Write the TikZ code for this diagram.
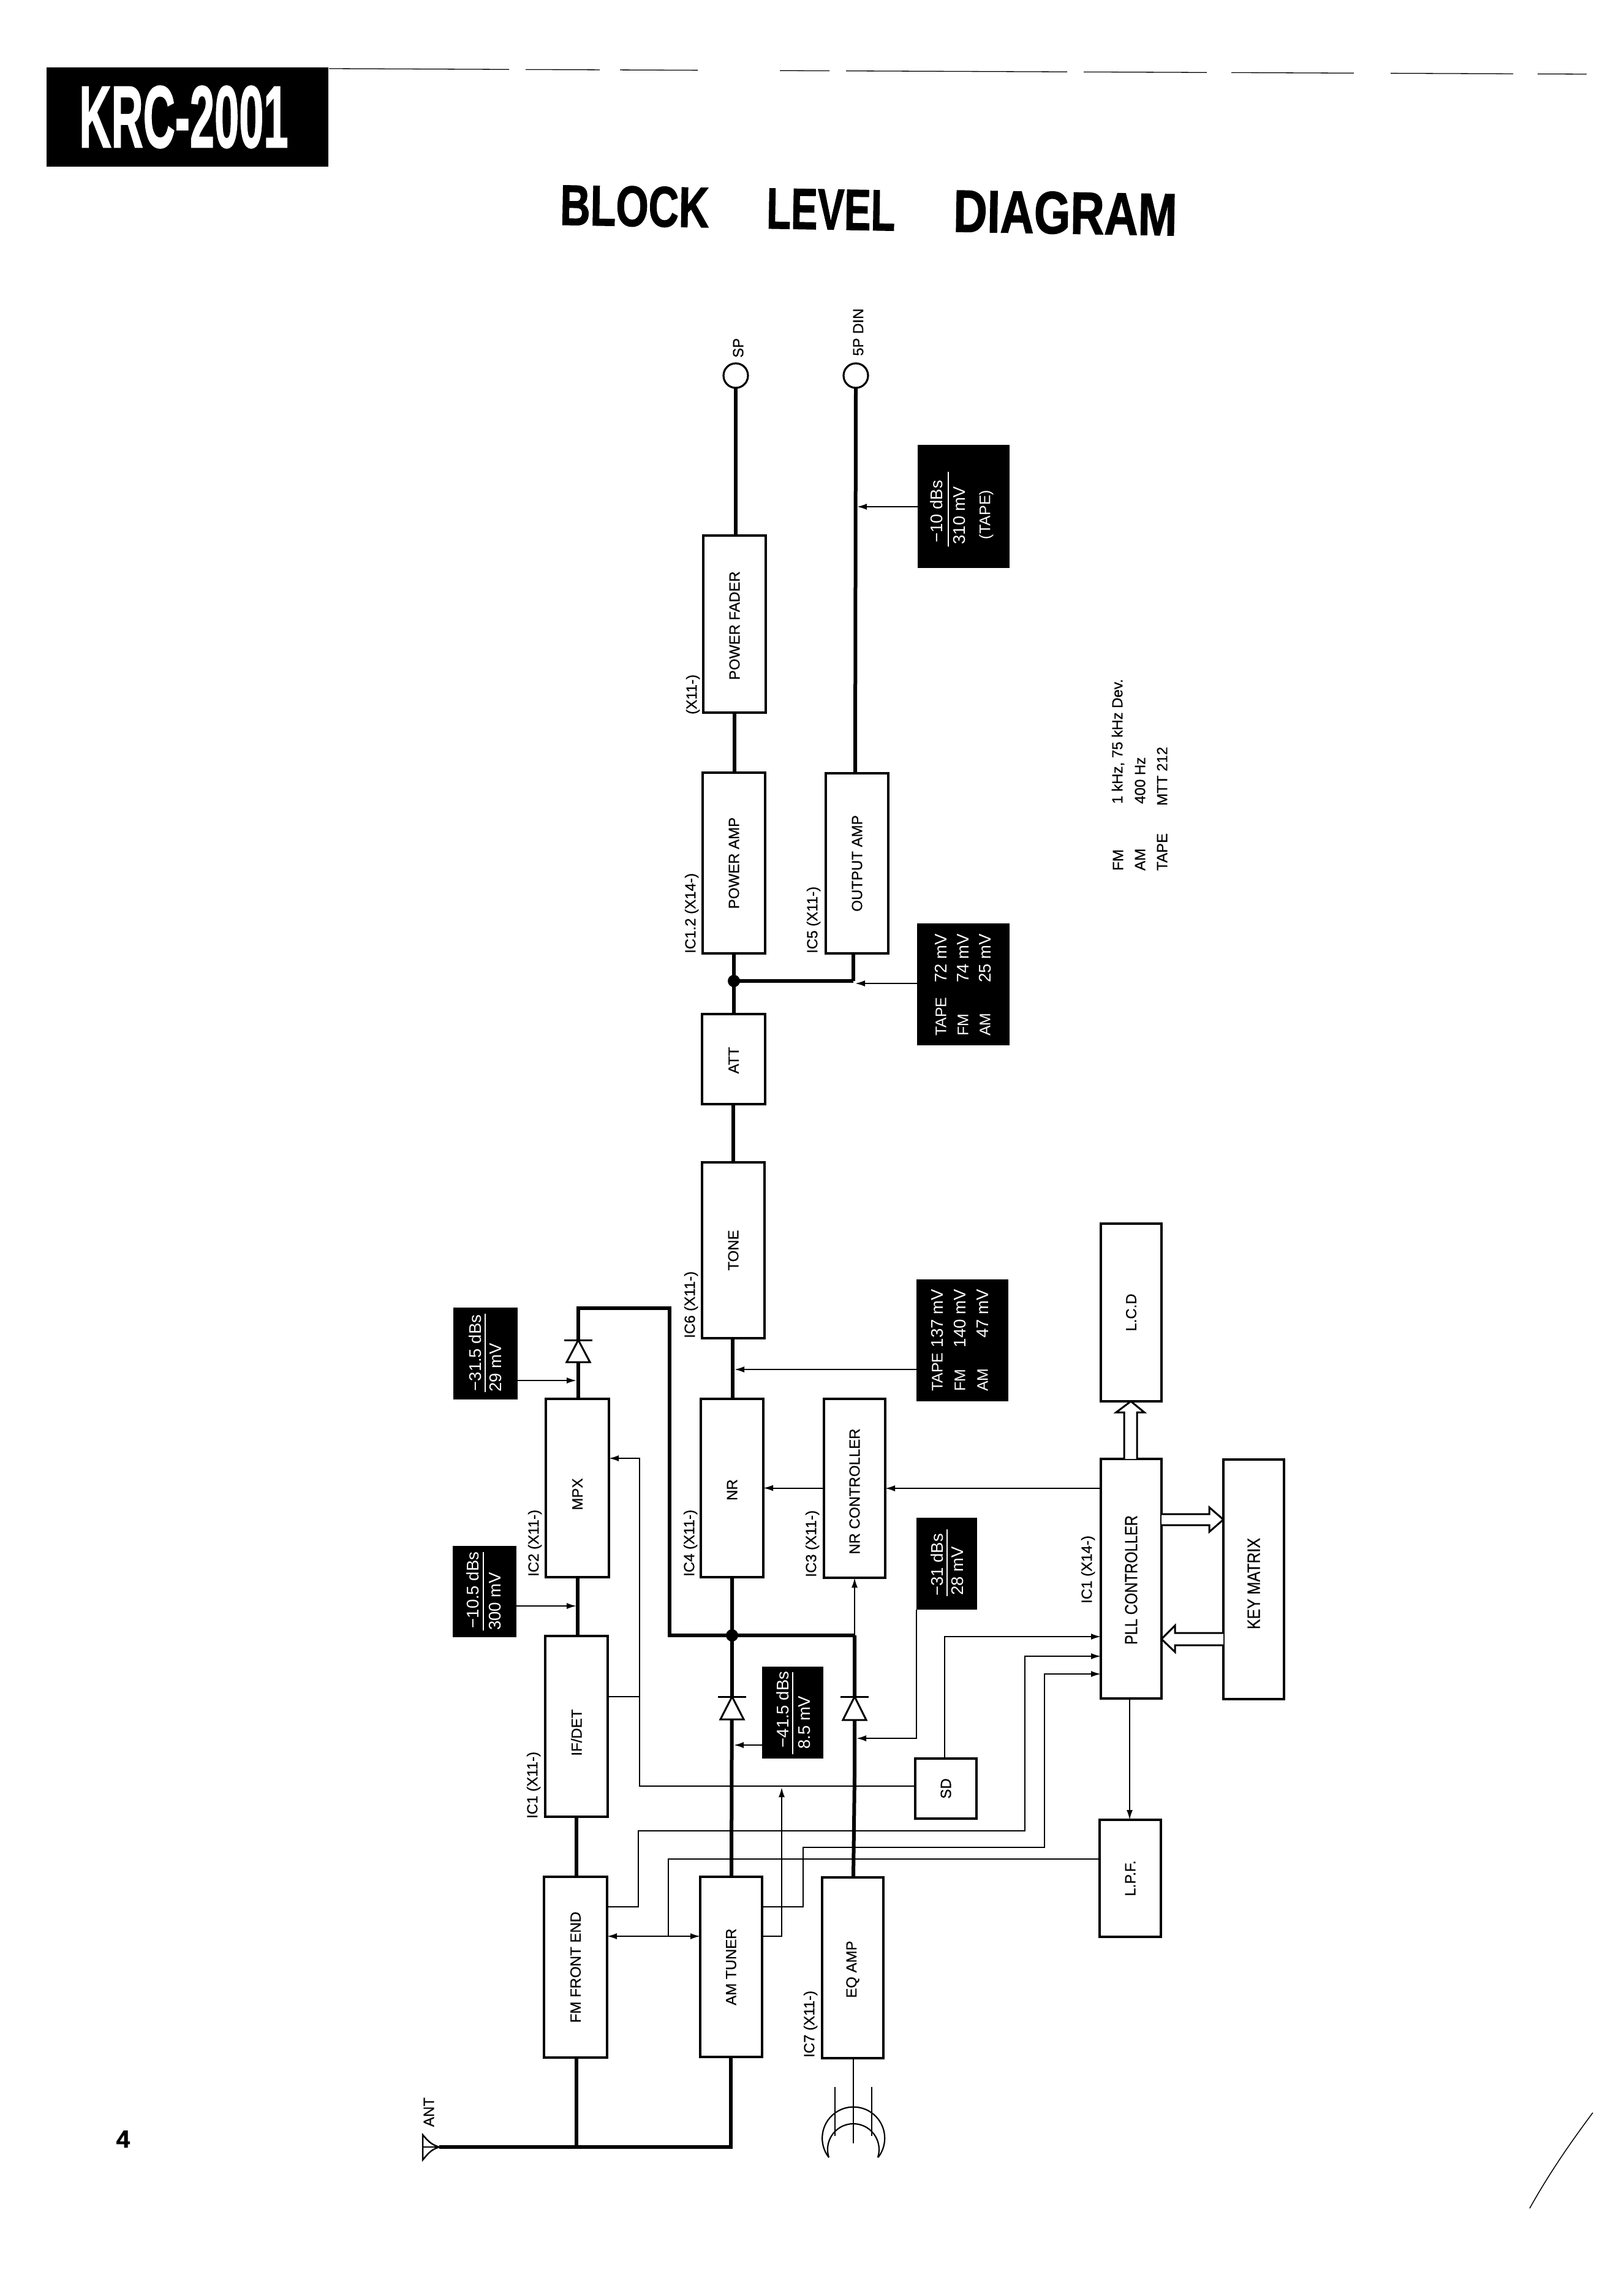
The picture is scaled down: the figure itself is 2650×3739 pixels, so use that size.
\documentclass[tikz,border=0pt]{standalone}
\usepackage{fontspec}
\setmainfont{Liberation Sans}[FakeBold=0.6,BoldFeatures={FakeBold=1.5}]
\newfontfamily\plainface{Liberation Sans}
\usetikzlibrary{arrows.meta}
\tikzset{
  thickwire/.style={line width=6pt,line cap=butt,line join=miter},
  thinwire/.style={line width=2pt,line join=miter},
  sig/.style={thinwire,-{Latex[length=16pt,width=10pt]}},
  blockbox/.style={draw=black,fill=white,line width=3.2pt,inner sep=0pt,outer sep=0pt,font=\fontsize{24}{28}\selectfont},
  darkbox/.style={draw=none,fill=black,inner sep=0pt,outer sep=0pt},
  vlabel/.style={rotate=90,inner sep=0pt,font=\fontsize{24}{28}\selectfont},
  wlabel/.style={vlabel,text=white,font=\plainface\fontsize{25}{28}\selectfont},
  wnum/.style={vlabel,text=white,font=\plainface\fontsize{27.5}{30}\selectfont},
  hollow/.style={draw=black,fill=white,line width=3pt,line join=miter},
  diodeshape/.style={draw=black,fill=white,line width=3pt,line join=miter},
  term/.style={circle,draw=black,fill=white,line width=3.2pt,minimum size=40pt,inner sep=0pt,outer sep=0pt},
}
\newcommand{\blk}[6]{\node[blockbox,minimum width={(#4-#2)*1pt},minimum height={(#5-#3)*1pt}] (#1) at ({(#2+#4)/2},{(#3+#5)/2}) {\rotatebox{90}{#6}};}
\newcommand{\drk}[5]{\node[darkbox,minimum width={(#4-#2)*1pt},minimum height={(#5-#3)*1pt}] (#1) at ({(#2+#4)/2},{(#3+#5)/2}) {};}
\newcommand{\diodeat}[3]{% x, bar y, base y
  \draw[diodeshape] (#1,#2) -- (#1-19,#3) -- (#1+19,#3) -- cycle;
  \draw[line width=3pt] (#1-23,#2) -- (#1+23,#2);}
\begin{document}
\begin{tikzpicture}[x=1pt,y=-1pt]
\useasboundingbox (0,0) rectangle (2650,3739);
\fill[white] (0,0) rectangle (2650,3739);

% header
\node[darkbox,minimum width=460pt,minimum height=162pt,text=white] (krc) at (306,191)
  {\resizebox{341pt}{100pt}{\bfseries KRC-2001}\hspace*{12pt}};
\node[inner sep=0pt,rotate=-1] (title) at (1418,342)
  {\bfseries\resizebox{243pt}{65pt}{BLOCK}\hspace{94pt}\resizebox{210pt}{65pt}{LEVEL}\hspace{95pt}\resizebox{365pt}{68pt}{DIAGRAM}};
\node[inner sep=0pt,font=\bfseries\fontsize{40}{44}\selectfont] (page) at (201,3491) {4};
\coordinate (ruleA) at (537,112);
\coordinate (ruleB) at (2590,121);
\draw[line width=1.3pt,dash pattern=on 294pt off 27pt on 121pt off 33pt on 127pt off 134pt on 81pt off 27pt on 361pt off 27pt on 201pt off 40pt on 200pt off 60pt on 200pt off 40pt] (ruleA) -- (ruleB);
\draw[line width=1.5pt] (2600,3448) .. controls (2565,3495) and (2530,3545) .. (2497,3604);

% blocks
\blk{fmfe}{888}{3063}{991}{3358}{FM FRONT END}
\blk{amt}{1143}{3063}{1244}{3357}{AM TUNER}
\blk{eq}{1342}{3064}{1442}{3359}{\hspace*{0pt}EQ AMP\hspace*{5pt}}
\blk{ifdet}{890}{2670}{992}{2965}{IF/DET\hspace*{20pt}}
\blk{mpx}{891}{2283}{994}{2574}{MPX\hspace*{20pt}}
\blk{nr}{1144}{2283}{1246}{2574}{NR\hspace*{6pt}}
\blk{nrc}{1345}{2283}{1445}{2575}{NR CONTROLLER\hspace*{10pt}}
\blk{tone}{1146}{1897}{1248}{2184}{TONE}
\blk{att}{1146}{1655}{1249}{1802}{ATT\hspace*{4pt}}
\blk{pamp}{1147}{1261}{1249}{1556}{POWER AMP}
\blk{oamp}{1348}{1262}{1450}{1556}{OUTPUT AMP}
\blk{pfad}{1148}{874}{1250}{1163}{POWER FADER\hspace*{5pt}}
\blk{lcd}{1797}{1997}{1896}{2287}{L.C.D}
\blk{pll}{1797}{2381}{1896}{2772}{\resizebox{211pt}{20pt}{PLL CONTROLLER}\hspace*{4pt}}
\blk{keym}{1997}{2382}{2096}{2773}{\resizebox{149pt}{20pt}{KEY MATRIX}\hspace*{14pt}}
\blk{lpf}{1795}{2970}{1895}{3161}{L.P.F.}
\blk{sd}{1494}{2870}{1594}{2968}{SD}

% black level boxes
\drk{bA}{740}{2134}{845}{2284}
\drk{bB}{739}{2523}{843}{2672}
\drk{bC}{1496}{2088}{1646}{2287}
\drk{bD}{1496}{2477}{1595}{2627}
\drk{bE}{1244}{2720}{1344}{2870}
\drk{bF}{1497}{1507}{1648}{1706}
\drk{bG}{1498}{726}{1648}{927}

% terminals
\node[term] (sp) at (1201,613) {};
\node[term] (din) at (1397,613) {};

% named wire points
\coordinate (jA) at (1195,2669);
\coordinate (jB) at (1198,1601);
\coordinate (jC) at (1395,2669);
\coordinate (jD) at (1393,1601);
\coordinate (mpxtop) at (944,2135);
\coordinate (mpxcor) at (1093,2135);
\coordinate (mpxlow) at (1093,2669);
\coordinate (antA) at (717,3504);
\coordinate (antM) at (941,3504);
\coordinate (antC) at (1193,3504);
\coordinate (tapeend) at (1393,3498);

% thick signal path
\draw[thickwire] (antA) -- (antC) -- (1193,0 |- amt.south);
\draw[thickwire] (941,0 |- fmfe.south) -- (antM);
\draw[thickwire] (941,0 |- fmfe.north) -- (941,0 |- ifdet.south);
\draw[thickwire] (943,0 |- ifdet.north) -- (943,0 |- mpx.south);
\draw[thickwire] (944,0 |- mpx.north) -- (mpxtop) -- (mpxcor) -- (mpxlow) -- (jC);
\draw[thickwire] (1194,0 |- amt.north) -- (jA) -- (1195,0 |- nr.south);
\draw[thickwire] (1393,0 |- eq.north) -- (1395,2900) -- (jC);
\draw[thickwire] (1196,0 |- nr.north) -- (1196,0 |- tone.south);
\draw[thickwire] (1197,0 |- tone.north) -- (1197,0 |- att.south);
\draw[thickwire] (1198,0 |- att.north) -- (1198,0 |- pamp.south);
\draw[thickwire] (jB) -- (jD);
\draw[thickwire] (1393,0 |- oamp.south) -- (jD);
\draw[thickwire] (1199,0 |- pamp.north) -- (1199,0 |- pfad.south);
\draw[thickwire] (1201,0 |- pfad.north) -- (sp.south);
\draw[thickwire] (1396,0 |- oamp.north) -- (din.south);
\fill (jA) circle[radius=10pt];
\fill (jB) circle[radius=10pt];

% diodes
\diodeat{944}{2187}{2223}
\diodeat{1195}{2769}{2806}
\diodeat{1395}{2769}{2807}

% thin wires from level boxes
\coordinate (tA) at (941,2253);
\coordinate (tB) at (941,2621);
\coordinate (tC) at (1199,2235);
\coordinate (tD) at (1398,2837);
\coordinate (tE) at (1198,2848);
\coordinate (tF) at (1396,1605);
\coordinate (tG) at (1399,827);
\draw[sig] (bA.east |- tA) -- (tA);
\draw[sig] (bB.east |- tB) -- (tB);
\draw[sig] (bC.west |- tC) -- (tC);
\draw[sig] (bD.south west) -- (bD.west |- tD) -- (tD);
\draw[sig] (bE.west |- tE) -- (tE);
\draw[sig] (bF.west |- tF) -- (tF);
\draw[sig] (bG.west |- tG) -- (tG);

% control wires
\draw[sig] (nrc.west |- nr.east) -- (nr.east);
\draw[sig] (pll.west |- nrc.east) -- (nrc.east);
\draw[sig] (jC) -- (1395,0 |- nrc.south);
\draw[sig] (1844,0 |- pll.south) -- (1844,0 |- lpf.north);
\coordinate (ifA) at (1044,2769);
\coordinate (ifB) at (1044,2380);
\coordinate (ifC) at (1044,2915);
\draw[sig] (ifdet.east |- ifA) -- (ifA) -- (ifB) -- (mpx.east |- ifB);
\draw[thinwire] (ifC |- ifA) -- (ifC) -- (sd.west |- ifC);
\draw[sig] (amt.east |- 0,3160) -- (1276,3160) -- (1276,2917);
\draw[sig] (1542,0 |- sd.north) -- (1542,2671) -- (pll.west |- 0,2671);
\draw[sig] (fmfe.east |- 0,3112) -- (1042,3112) -- (1042,2988) -- (1673,2988) -- (1673,2703) -- (pll.west |- 0,2703);
\draw[sig] (amt.east |- 0,3112) -- (1311,3112) -- (1311,3015) -- (1705,3015) -- (1705,2732) -- (pll.west |- 0,2732);
\draw[thinwire] (lpf.west |- 0,3034) -- (1091,3034) -- (1091,3160);
\draw[thinwire,{Latex[length=16pt,width=10pt]}-{Latex[length=16pt,width=10pt]}] (fmfe.east |- 0,3160) -- (amt.west |- 0,3160);

% hollow bus arrows
\draw[hollow] (1835,0 |- pll.north) -- (1835,2305) -- (1822,2305) -- (1846,0 |- lcd.south) -- (1868,2305) -- (1856,2305) -- (1856,0 |- pll.north);
\draw[hollow] (pll.east |- 0,2471) -- (1974,2471) -- (1974,2460) -- (keym.west |- 0,2480) -- (1974,2500) -- (1974,2489) -- (pll.east |- 0,2489);
\draw[hollow] (keym.west |- 0,2665) -- (1918,2665) -- (1918,2653) -- (pll.east |- 0,2675) -- (1918,2696) -- (1918,2685) -- (keym.west |- 0,2685);

% antenna
\coordinate (antL1) at (690,3484);
\coordinate (antL2) at (690,3525);
\draw[line width=2.5pt,line join=miter] (antA) .. controls (703,3500) and (697,3492) .. (antL1) -- (antL2) .. controls (697,3517) and (703,3508) .. (antA);
\draw[line width=1.5pt] (antL1 |- antA) -- (antA);
\node[vlabel] (antlab) at (700,3447) {ANT};

% tape head
\draw[thinwire] (1393,0 |- eq.south) -- (tapeend);
\draw[thinwire] (1363,3406) -- (1363,3486);
\draw[thinwire] (1423,3406) -- (1423,3486);
\draw[line width=2.2pt] (1353,3521) arc[start angle=218,end angle=-38,radius=51pt];
\draw[line width=2.2pt] (1353,3521) arc[start angle=198,end angle=-18,radius=42pt];

% IC labels
\node[vlabel,anchor=west] (lA) at (873,2573) {IC2 (X11-)};
\node[vlabel,anchor=west] (lB) at (871,2968) {IC1 (X11-)};
\node[vlabel,anchor=west] (lC) at (1127,2573) {IC4 (X11-)};
\node[vlabel,anchor=west] (lD) at (1326,2574) {IC3 (X11-)};
\node[vlabel,anchor=west] (lE) at (1128,2184) {IC6 (X11-)};
\node[vlabel,anchor=west] (lF) at (1323,3358) {IC7 (X11-)};
\node[vlabel,anchor=west] (lG) at (1129,1556) {IC1.2 (X14-)};
\node[vlabel,anchor=west] (lH) at (1328,1556) {IC5 (X11-)};
\node[vlabel,anchor=west] (lI) at (1776,2617) {IC1 (X14-)};
\node[vlabel,anchor=west] (lJ) at (1131,1166) {(X11-)};
\node[vlabel,anchor=west] (lK) at (1205,584) {SP};
\node[vlabel,anchor=west] (lL) at (1401,581) {5P DIN};

% level box texts
\draw[white,line width=2pt] (792,2144) -- (792,2272);
\node[wnum] (tA1) at (776,2208) {−31.5 dBs};
\node[wnum,anchor=west] (tA2) at (809,2272) {29 mV};
\draw[white,line width=2pt] (789,2533) -- (789,2661);
\node[wnum] (tB1) at (772,2595) {−10.5 dBs};
\node[wnum,anchor=west] (tB2) at (808,2661) {300 mV};
\draw[white,line width=2pt] (1546,2496) -- (1546,2605);
\node[wnum] (tD1) at (1530,2554) {−31 dBs};
\node[wnum,anchor=west] (tD2) at (1563,2604) {28 mV};
\draw[white,line width=2pt] (1294,2729) -- (1294,2863);
\node[wnum] (tE1) at (1278,2790) {−41.5 dBs};
\node[wnum,anchor=west] (tE2) at (1313,2855) {8.5 mV};
\draw[white,line width=2pt] (1548,770) -- (1548,892);
\node[wnum] (tG1) at (1529,835) {−10 dBs};
\node[wnum] (tG2) at (1566,841) {310 mV};
\node[wlabel] (tG3) at (1610,840) {(TAPE)};

\node[wlabel,anchor=west] (cA) at (1530,2271) {TAPE};
\node[wlabel,anchor=west] (cB) at (1567,2271) {FM};
\node[wlabel,anchor=west] (cC) at (1604,2271) {AM};
\node[wnum,anchor=east] (cD) at (1530,2104) {137 mV};
\node[wnum,anchor=east] (cE) at (1567,2104) {140 mV};
\node[wnum,anchor=east] (cF) at (1604,2104) {47 mV};
\node[wlabel,anchor=west] (dA) at (1536,1691) {TAPE};
\node[wlabel,anchor=west] (dB) at (1572,1691) {FM};
\node[wlabel,anchor=west] (dC) at (1608,1691) {AM};
\node[wnum,anchor=east] (dD) at (1536,1524) {72 mV};
\node[wnum,anchor=east] (dE) at (1572,1524) {74 mV};
\node[wnum,anchor=east] (dF) at (1608,1524) {25 mV};

% legend
\node[vlabel,anchor=west] (eA) at (1825,1421) {FM};
\node[vlabel,anchor=west] (eB) at (1861,1421) {AM};
\node[vlabel,anchor=west] (eC) at (1897,1421) {TAPE};
\node[vlabel,anchor=west] (eD) at (1825,1312) {1 kHz, 75 kHz Dev.};
\node[vlabel,anchor=west] (eE) at (1861,1312) {400 Hz};
\node[vlabel,anchor=west] (eF) at (1897,1315) {MTT 212};
\end{tikzpicture}
\end{document}
